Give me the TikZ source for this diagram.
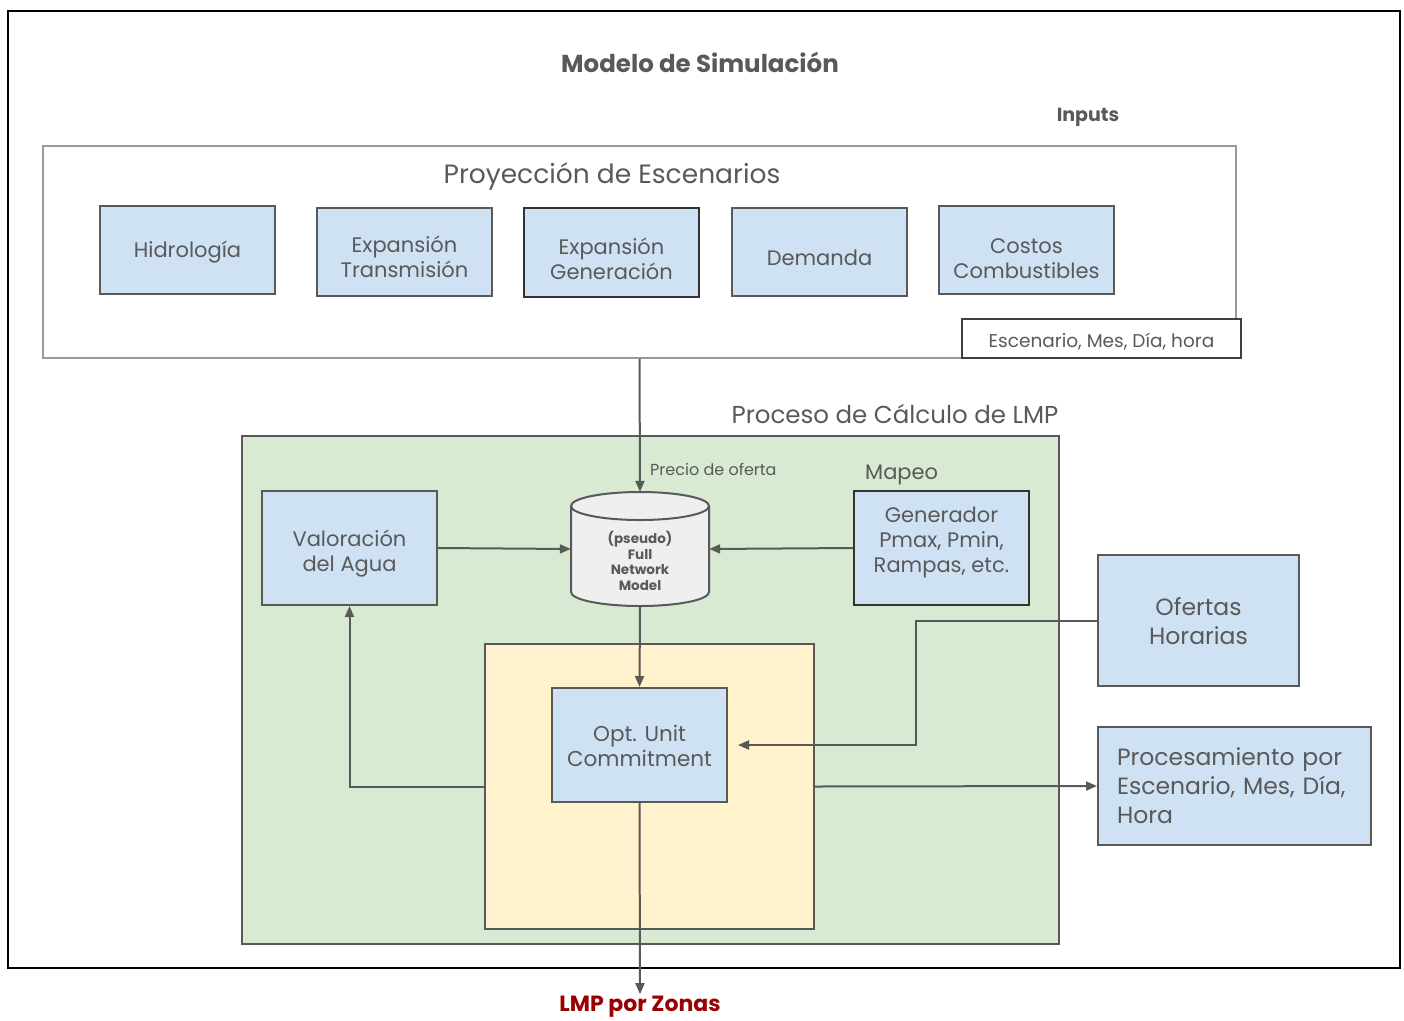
\documentclass[tikz,border=0pt]{standalone}
\usepackage{fontspec}
\setmainfont{Poppins}
\usetikzlibrary{arrows.meta}
\definecolor{ln}{HTML}{595959}
\definecolor{tx}{HTML}{595959}
\definecolor{frm}{HTML}{999999}
\definecolor{bluebox}{HTML}{CFE2F3}
\definecolor{greenbox}{HTML}{D9EAD3}
\definecolor{yellowbox}{HTML}{FFF2CC}
\definecolor{cylfill}{HTML}{EFEFEF}
\definecolor{lmpred}{HTML}{990000}
\begin{document}
\begin{tikzpicture}[x=1pt,y=-1pt,
  bx/.style={draw=ln, fill=bluebox, line width=2pt, inner sep=0pt},
  bxtext/.style={text=tx, align=center, inner sep=0pt, font=\fontsize{21}{25}\selectfont},
  bigtext/.style={bxtext, font=\fontsize{23.5}{29}\selectfont},
  region/.style={draw=ln, line width=2pt, inner sep=0pt},
  lbl/.style={text=tx, inner sep=0pt},
  arr/.style={draw=ln, line width=2pt, -{Triangle[length=11pt,width=9pt]}}]
\useasboundingbox (0,0) rectangle (1404,1020);

% outer frame and headings
\node[draw=black, line width=2pt, minimum width=1392, minimum height=957, inner sep=0pt] (outer) at (704,489.5) {};
\node[lbl, font=\fontsize{24.5}{28}\selectfont\bfseries] (title) at (700,62) {Modelo de Simulación};
\node[lbl, font=\fontsize{19}{22}\selectfont\bfseries] (inputs) at (1088,117) {Inputs};

% scenario projection
\node[draw=frm, line width=1.5pt, minimum width=1193, minimum height=212, inner sep=0pt] (proy) at (639.5,252) {};
\node[lbl, font=\fontsize{26.5}{30}\selectfont] (proyt) at (612,176) {Proyección de Escenarios};

\node[bx, minimum width=175, minimum height=88] (hid) at (187.5,250) {};
\node[bxtext] (hidt) at ([yshift=-2pt]hid.center) {Hidrología};
\node[bx, minimum width=175, minimum height=88] (etr) at (404.5,252) {};
\node[bxtext] (etrt) at ([yshift=-5pt]etr.center) {Expansión\\Transmisión};
\node[bx, draw=black!80, minimum width=175, minimum height=89] (egen) at (611.5,252.5) {};
\node[bxtext] (egent) at ([yshift=-6pt]egen.center) {Expansión\\Generación};
\node[bx, minimum width=175, minimum height=88] (dem) at (819.5,252) {};
\node[bxtext] (demt) at ([yshift=-6pt]dem.center) {Demanda};
\node[bx, minimum width=175, minimum height=88] (cos) at (1026.5,250) {};
\node[bxtext] (cost) at ([yshift=-9pt]cos.center) {Costos\\Combustibles};

\node[draw=black!75, line width=2pt, fill=white, minimum width=279, minimum height=39, inner sep=0pt] (esc) at (1101.5,338.5) {};
\node[lbl, font=\fontsize{18.5}{22}\selectfont] (esct) at ([yshift=-3pt]esc.center) {Escenario, Mes, Día, hora};

% LMP calculation process
\node[lbl, font=\fontsize{24.5}{28}\selectfont] (proct) at (895,414) {Proceso de Cálculo de LMP};
\node[region, fill=greenbox, minimum width=817, minimum height=508] (green) at (650.5,690) {};
\node[region, fill=yellowbox, minimum width=329, minimum height=285] (yellow) at (649.5,786.5) {};

\node[bx, minimum width=175, minimum height=114] (val) at (349.5,548) {};
\node[bxtext] (valt) at ([yshift=-6pt]val.center) {Valoración\\del Agua};
\node[bx, draw=black!80, minimum width=175, minimum height=114] (gen) at (941.5,548) {};
\node[bxtext] (gent) at ([yshift=6pt]gen.center) {Generador\\Pmax, Pmin,\\Rampas, etc.};
\node[lbl, font=\fontsize{21}{24}\selectfont, anchor=west] (mapeo) at (865,475) {Mapeo};
\node[lbl, font=\fontsize{16}{18}\selectfont, anchor=west] (precio) at (650,469) {Precio de oferta};

% network model cylinder
\node[minimum width=138, minimum height=114, inner sep=0pt] (fnm) at (640,549) {};
\path[draw=ln, fill=cylfill, line width=2pt]
  (571,506) -- (571,592) arc[start angle=180, end angle=0, x radius=69, y radius=14]
  -- (709,506) arc[start angle=0, end angle=-180, x radius=69, y radius=14] -- cycle;
\draw[draw=ln, line width=2pt] (571,506) arc[start angle=180, end angle=0, x radius=69, y radius=14];
\node[lbl, align=center, font=\fontsize{13.5}{15.7}\selectfont\bfseries] (fnmt) at (640,561) {(pseudo)\\Full\\Network\\Model};

\node[bx, minimum width=175, minimum height=114] (opt) at (639.5,745) {};
\node[bxtext, font=\fontsize{21.5}{25}\selectfont] (optt) at ([yshift=-1pt]opt.center) {Opt. Unit\\Commitment};
\node[bx, minimum width=201, minimum height=131] (of) at (1198.5,620.5) {};
\node[bigtext] (oft) at ([yshift=-1pt]of.center) {Ofertas\\Horarias};
\node[bx, minimum width=273, minimum height=118] (proc) at (1234.5,786) {};
\node[bigtext, align=left, text width=235] (proct2) at (proc.center) {Procesamiento por\\Escenario, Mes, Día,\\Hora};

\node[font=\fontsize{22}{26}\selectfont\bfseries, text=lmpred, inner sep=2pt] (lmp) at (640,1007) {LMP por Zonas};

% connectors
\draw[arr] (proy.south) -- (fnm.north);
\draw[arr] (val.east) -- (fnm.west);
\draw[arr] (gen.west) -- (fnm.east);
\draw[arr] (fnm.south) -- (opt.north);
\draw[arr] (of.west) -- ++(-181,0) |- ([xshift=10pt]opt.east);
\draw[arr] (yellow.east) -- (proc.west);
\draw[arr] (yellow.west) -| (val.south);
\draw[arr] (opt.south) -- (lmp.north);
\end{tikzpicture}
\end{document}
